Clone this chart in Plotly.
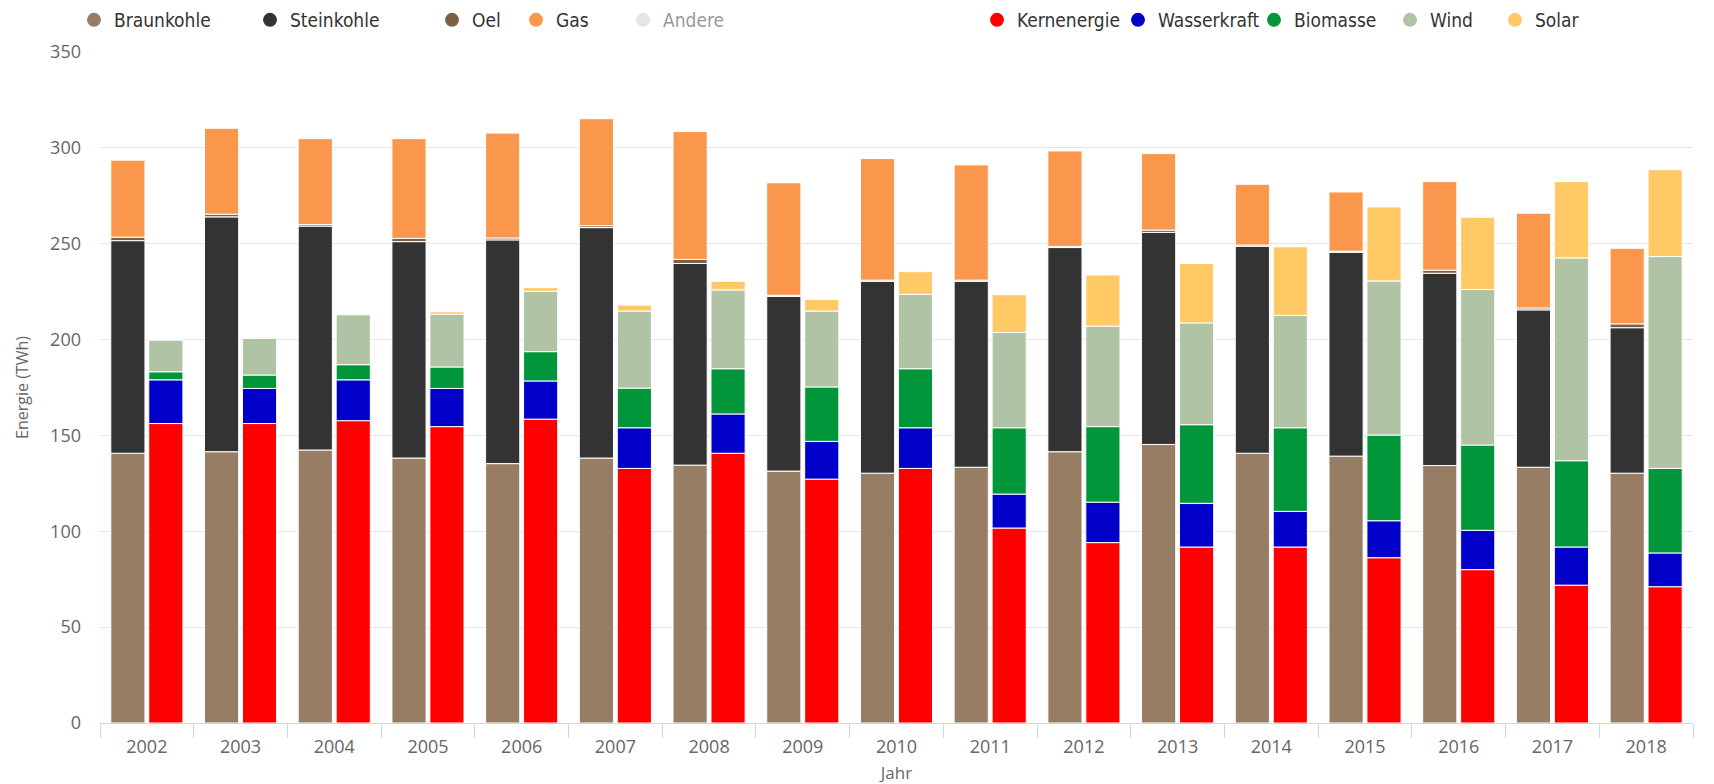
import plotly.graph_objects as go
import numpy as np

# Jahre (Kategorien)
jahre = ['2002', '2003', '2004', '2005', '2006', '2007', '2008', '2009', '2010',
         '2011', '2012', '2013', '2014', '2015', '2016', '2017', '2018']

# Fossile Energieträger (TWh)
braunkohle = [140.7, 141.5, 142.4, 138.2, 135.3, 138.2, 134.5, 131.4, 130.3, 133.4, 141.5, 145.3, 140.7, 139.2, 134.3, 133.4, 130.3]
steinkohle = [110.9, 122.5, 116.8, 112.9, 116.7, 120.2, 105.2, 91.1, 100.1, 97.0, 106.5, 110.6, 108.0, 106.3, 100.3, 82.1, 75.9]
oel = [1.8, 1.4, 0.8, 1.7, 1.0, 1.0, 2.1, 0.6, 0.6, 0.6, 0.6, 1.2, 0.6, 0.6, 1.6, 1.0, 2.0]
gas = [40.2, 44.8, 44.8, 52.0, 54.7, 55.8, 66.7, 58.7, 63.4, 60.1, 49.8, 39.9, 31.7, 30.9, 46.2, 49.4, 39.4]
andere = [None] * 17  # ausgeblendet

# Kernenergie und Erneuerbare (TWh)
kernenergie = [156.2, 156.2, 157.7, 154.6, 158.5, 132.8, 140.7, 127.2, 132.8, 101.7, 94.1, 91.8, 91.8, 86.2, 80.0, 71.9, 71.1]
wasserkraft = [22.8, 18.3, 21.3, 19.9, 19.9, 21.2, 20.5, 19.7, 21.2, 17.7, 21.1, 22.8, 18.6, 19.3, 20.5, 19.9, 17.6]
biomasse = [4.2, 7.0, 7.9, 11.2, 15.3, 20.7, 23.6, 28.4, 30.8, 34.6, 39.4, 41.0, 43.6, 44.7, 44.5, 45.0, 44.1]
wind = [16.6, 19.1, 26.1, 27.5, 31.5, 40.2, 41.1, 39.6, 38.8, 49.7, 52.4, 53.1, 58.6, 80.4, 81.1, 105.8, 110.5]
solar = [0.2, 0.3, 0.6, 1.3, 1.9, 3.1, 4.5, 6.0, 11.8, 19.7, 26.7, 31.0, 35.8, 38.6, 37.7, 39.8, 45.3]

stapel_fossil = [
    ('Braunkohle', braunkohle, '#977d63'),
    ('Steinkohle', steinkohle, '#333333'),
    ('Oel', oel, '#7b5f45'),
    ('Gas', gas, '#fa974c'),
    ('Andere', andere, '#cccccc'),
]
stapel_rest = [
    ('Kernenergie', kernenergie, '#ff0000'),
    ('Wasserkraft', wasserkraft, '#0000c8'),
    ('Biomasse', biomasse, '#009639'),
    ('Wind', wind, '#b0c4a5'),
    ('Solar', solar, '#ffc966'),
]

# Position der Legendeneinträge (Kreismitte in Pixel der Seite)
legend_px = [93, 269, 451, 535, 642, 996, 1137, 1273, 1409, 1514]

fig = go.Figure()
zaehler = [0]


def add_stack(stapel, gruppe):
    basis = np.zeros(len(jahre))
    for name, werte, farbe in stapel:
        werte_arr = np.array([np.nan if v is None else v for v in werte], dtype=float)
        sichtbar = 'legendonly' if name == 'Andere' else True
        fig.add_trace(go.Bar(
            x=jahre, y=werte_arr, base=basis.copy(), name=name,
            offsetgroup=gruppe, legendgroup=name, showlegend=False,
            visible=sichtbar,
            marker=dict(color=farbe, line=dict(color='white', width=1)),
            hovertemplate=name + ': %{y:.1f} TWh<extra>%{x}</extra>',
        ))
        # Legendeneintrag mit Kreissymbol, jeder in einer eigenen Legende
        zaehler[0] += 1
        leg = 'legend' if zaehler[0] == 1 else f'legend{zaehler[0]}'
        fig.add_trace(go.Scatter(
            x=[None], y=[None], mode='markers', name=name,
            legendgroup=name, legend=leg, visible=sichtbar,
            marker=dict(color=farbe, size=14, symbol='circle'),
        ))
        if name != 'Andere':
            basis = basis + np.nan_to_num(werte_arr)


add_stack(stapel_fossil, 'fossil')
add_stack(stapel_rest, 'rest')

# die Seite hat 8px Rand, deshalb ist die Figur etwas kleiner
fig_w, fig_h = 1706, 776
plot_l, plot_r, plot_t, plot_b = 92, 21, 44, 61
plot_w = fig_w - plot_l - plot_r
plot_h = fig_h - plot_t - plot_b
legend_font = dict(family='DejaVu Sans Condensed, DejaVu Sans, sans-serif', size=19, color='#333333')

legenden = {}
for i, px in enumerate(legend_px):
    key = 'legend' if i == 0 else f'legend{i + 1}'
    legenden[key] = dict(orientation='h', x=(px - 27 - plot_l) / plot_w, xanchor='left',
                         y=1 + (plot_t - 12) / plot_h, yanchor='middle',
                         font=legend_font, itemwidth=30, bgcolor='rgba(0,0,0,0)')

fig.update_layout(
    width=fig_w, height=fig_h,
    barmode='group', bargap=0.19, bargroupgap=0.1,
    plot_bgcolor='white', paper_bgcolor='white',
    margin=dict(l=plot_l, r=plot_r, t=plot_t, b=plot_b, autoexpand=False),
    font=dict(family='Open Sans, sans-serif', color='#666666'),
    **legenden,
)

fig.update_xaxes(
    type='category', showgrid=False, automargin=False,
    showline=True, linecolor='#ccd6eb', linewidth=1,
    ticks='outside', tickson='boundaries', ticklen=14, tickcolor='#ccd6eb',
    ticklabelstandoff=7,
    tickfont=dict(size=18, color='#666666'),
    title=dict(text='Jahr', font=dict(size=17, color='#666666'), standoff=18),
)
fig.update_yaxes(
    range=[0, 350], dtick=50, showgrid=True, gridcolor='#e6e6e6', gridwidth=1,
    zeroline=False, showline=False, automargin=False,
    ticklabelstandoff=18,
    tickfont=dict(size=18, color='#666666'),
    title=dict(text='Energie (TWh)', font=dict(size=16, color='#666666'), standoff=17),
)

fig.write_html("out.html")
